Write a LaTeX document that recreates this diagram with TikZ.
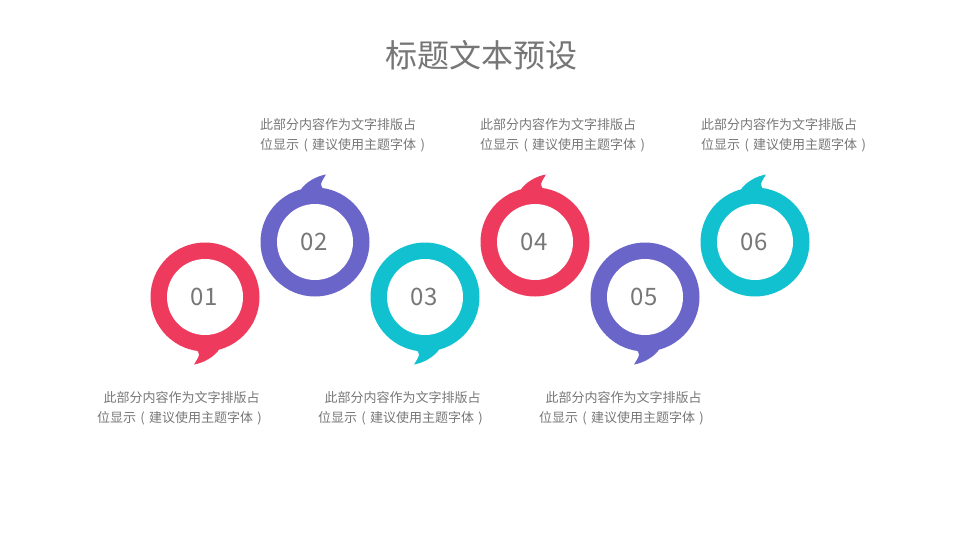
\documentclass[tikz,border=0pt]{standalone}
\usepackage{fontspec}
\setmainfont{Noto Sans CJK SC}
\definecolor{cred}{HTML}{EE3A5C}
\definecolor{cpurple}{HTML}{6A65C9}
\definecolor{ccyan}{HTML}{11C1D0}
\definecolor{ctext}{HTML}{777777}
\definecolor{ctitle}{HTML}{767676}
\newcommand\speechring[4]{%
\begin{scope}[shift={(#1,#2)},rotate=#4]
\fill[#3] (0,0) circle[radius=54.5];
\fill[#3] (-8,53) .. controls (-5,58) .. (-11,67.5) .. controls (-2,66) and (10,60) .. (15,51) -- cycle;
\fill[white] (0,0) circle[radius=38];
\end{scope}}
\newcommand\lpar{\hbox to 13pt{\hss(\hss}}
\newcommand\rpar{\hbox to 13pt{\hss)\hss}}
\newcommand\desctext{此部分内容作为文字排版占\\位显示\lpar 建议使用主题字体\rpar}
\tikzset{
  numlbl/.style={text=ctext,font=\fontsize{24}{28}\selectfont,inner sep=0pt},
  desc/.style={text=ctext,font=\fontsize{13}{20.5}\selectfont,inner sep=0pt},
  desctop/.style={desc,align=left,anchor=north west},
  descbot/.style={desc,align=center,anchor=north}
}
\begin{document}
\begin{tikzpicture}[x=1pt,y=-1pt]
\useasboundingbox (0,0) rectangle (960,540);
\fill[white] (0,0) rectangle (960,540);
\node[text=ctitle,font=\fontsize{32}{36}\selectfont,inner sep=0pt] (title) at (481,55) {标题文本预设};
\speechring{205}{297}{cred}{0}
\speechring{315}{242}{cpurple}{180}
\speechring{425}{297}{ccyan}{0}
\speechring{535}{242}{cred}{180}
\speechring{645}{297}{cpurple}{0}
\speechring{755}{242}{ccyan}{180}
\node[numlbl] (n1) at (204,297) {01};
\node[numlbl] (n2) at (314,242) {02};
\node[numlbl] (n3) at (424,297) {03};
\node[numlbl] (n4) at (534,242) {04};
\node[numlbl] (n5) at (644,297) {05};
\node[numlbl] (n6) at (754,242) {06};
\node[desctop] (t2) at (260,118) {\desctext};
\node[desctop] (t4) at (480,118) {\desctext};
\node[desctop] (t6) at (701,118) {\desctext};
\node[descbot] (t1) at (181.5,391) {\desctext};
\node[descbot] (t3) at (402.5,391) {\desctext};
\node[descbot] (t5) at (623.5,391) {\desctext};
\end{tikzpicture}
\end{document}
